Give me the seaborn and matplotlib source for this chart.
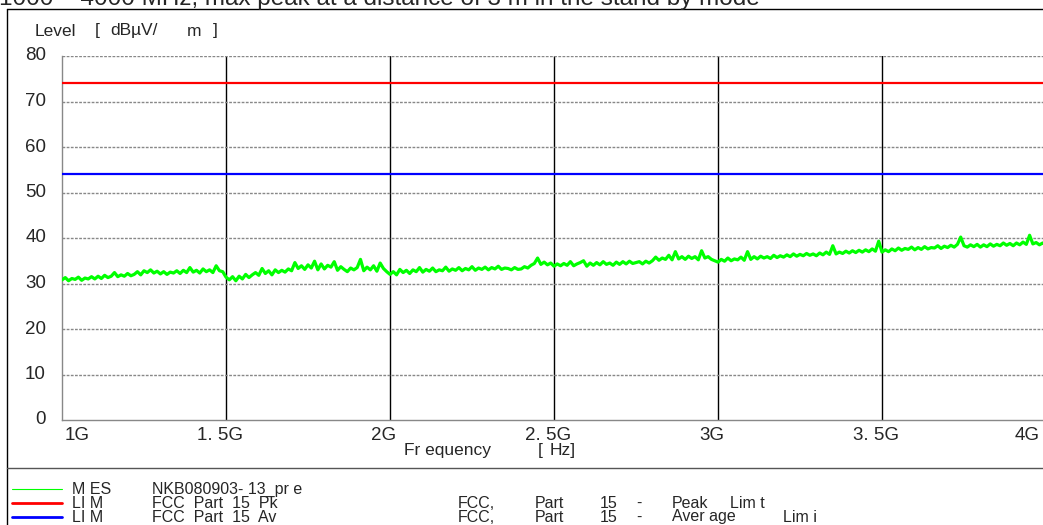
import seaborn as sns
import matplotlib.pyplot as plt
import pandas as pd
from matplotlib.lines import Line2D

# Radiated emission scan, 1 - 4 GHz (10 MHz steps)
freq_ghz = [1.0 + i * 0.01 for i in range(301)]
level = [
    30.8, 31.3, 30.6, 31.1, 30.9, 31.4, 30.7, 31.2, 31.0, 31.5,
    31.0, 31.6, 31.1, 31.8, 31.3, 31.6, 32.4, 31.5, 31.9, 31.6,
    32.2, 31.7, 32.0, 32.6, 31.9, 32.8, 32.4, 33.0, 32.3, 32.7,
    32.1, 32.6, 32.0, 32.5, 32.3, 32.8, 32.2, 32.9, 32.4, 33.5,
    32.5, 32.9, 32.3, 33.2, 32.6, 33.0, 32.4, 33.9, 32.8, 32.6,
    31.4, 30.8, 31.5, 30.6, 31.6, 31.0, 32.0, 31.3, 31.9, 32.4,
    31.8, 33.3, 32.2, 32.8, 31.9, 33.0, 32.4, 32.9, 32.5, 33.2,
    32.8, 34.6, 33.3, 33.9, 33.1, 34.1, 33.4, 34.9, 33.0, 34.3,
    33.2, 34.0, 33.6, 34.8, 32.9, 33.7, 33.1, 32.6, 33.4, 33.0,
    33.5, 35.3, 32.8, 33.6, 33.0, 33.9, 32.7, 34.5, 33.3, 32.6,
    32.0, 32.6, 31.9, 33.1, 32.4, 32.9, 32.2, 33.0, 32.6, 33.5,
    32.5, 33.1, 32.7, 33.4, 32.6, 33.0, 32.8, 33.6, 32.7, 33.2,
    32.9, 33.5, 32.8, 33.3, 33.0, 33.7, 32.9, 33.4, 33.1, 33.6,
    33.0, 33.5, 33.2, 33.8, 33.1, 33.4, 33.3, 33.0, 33.5, 33.1,
    33.2, 33.7, 33.4, 34.0, 34.4, 35.6, 34.2, 34.7, 34.1, 34.5,
    33.8, 34.3, 33.9, 34.4, 34.0, 34.8, 33.9, 34.3, 34.6, 35.0,
    33.8, 34.5, 34.0, 34.6, 34.1, 34.8, 34.2, 34.5, 34.0, 34.7,
    34.2, 34.8, 34.3, 34.9, 34.4, 34.6, 34.8, 34.3, 34.9, 34.5,
    35.0, 35.8, 35.1, 35.6, 35.3, 36.2, 35.2, 37.0, 35.4, 35.9,
    35.3, 36.0, 35.5, 35.9, 35.2, 37.2, 35.6, 35.9, 35.3, 35.0,
    34.7, 35.3, 34.9, 35.6, 35.0, 35.4, 35.2, 35.8, 35.1, 37.0,
    35.3, 35.9, 35.4, 36.0, 35.6, 35.9, 35.5, 36.2, 35.7, 36.1,
    35.8, 36.3, 35.9, 36.5, 36.0, 36.4, 36.1, 36.6, 36.2, 36.5,
    36.1, 36.7, 36.3, 36.9, 36.4, 38.3, 36.5, 36.9, 36.6, 37.1,
    36.7, 37.2, 36.8, 37.3, 36.9, 37.4, 37.0, 37.6, 37.1, 39.3,
    36.9, 37.4, 37.0, 37.6, 37.2, 37.8, 37.3, 37.7, 37.5, 38.0,
    37.4, 37.9, 37.5, 38.1, 37.6, 37.9, 37.8, 38.3, 37.7, 38.2,
    37.9, 38.4, 38.0, 38.6, 40.2, 38.3, 38.0, 38.5, 38.1, 38.6,
    38.0, 38.5, 38.1, 38.7, 38.2, 38.6, 38.3, 38.9, 38.4, 38.8,
    38.3, 38.9, 38.5, 39.1, 38.6, 40.6, 38.7, 39.0, 38.5, 38.9,
    38.6,
]

limit_freq_ghz = [1.0, 4.0]
peak_limit = [74, 74]
avg_limit = [54, 54]

x_ticks = [1.0, 1.5, 2.0, 2.5, 3.0, 3.5, 4.0]
x_tick_labels = ["1G", "1. 5G", "2G", "2. 5G", "3G", "3. 5G", "4G"]
y_ticks = [0, 10, 20, 30, 40, 50, 60, 70, 80]

title = "1000 \u2013 4000 MHz, max peak at a distance of 3 m in the stand by mode"

# legend block: line colour, width, then words with their left edge in pixels
legend_rows = [
    ("#00ff00", 0.8, [(72, "M ES"), (152, "NKB080903- 13_pr e")]),
    ("#ff0000", 2.0, [(72, "LI M"), (152, "FCC  Part  15  Pk"),
                      (458, "FCC,"), (535, "Part"), (600, "15"), (636, "-"),
                      (672, "Peak"), (730, "Lim t")]),
    ("#0000ff", 2.0, [(72, "LI M"), (152, "FCC  Part  15  Av"),
                      (458, "FCC,"), (535, "Part"), (600, "15"), (636, "-"),
                      (672, "Aver age"), (783, "Lim i")]),
]

sns.set_style("white")
plt.rcParams['font.family'] = ['Liberation Sans', 'DejaVu Sans']

W, H = 1043, 525
fig = plt.figure(figsize=(W / 100, H / 100), dpi=100)


def fx(px):
    return px / W


def fy(py):
    return 1 - py / H


ax = fig.add_axes([fx(62), fy(420), fx(1046 - 62), fy(56) - fy(420)])

meas = pd.DataFrame({"freq": freq_ghz, "level": level})
lims = pd.DataFrame({"freq": limit_freq_ghz, "pk": peak_limit, "av": avg_limit})

sns.lineplot(data=meas, x="freq", y="level", color="#00ff00", lw=2.3, ax=ax, zorder=4)
sns.lineplot(data=lims, x="freq", y="pk", color="#ff0000", lw=1.6, ax=ax, zorder=5)
sns.lineplot(data=lims, x="freq", y="av", color="#0000ff", lw=1.6, ax=ax, zorder=5)

ax.set_xlim(1.0, 4.0)
ax.set_ylim(0, 80)
ax.set_xticks(x_ticks)
ax.set_yticks(y_ticks)
ax.set_xticklabels([])
ax.set_yticklabels([])
ax.tick_params(length=0)
ax.set_xlabel("")
ax.set_ylabel("")

# grid: black verticals, grey horizontals
for x in x_ticks[1:-1]:
    ax.axvline(x, color="black", lw=1.0, zorder=2)
for y in y_ticks[1:]:
    ax.axhline(y, color="#888888", lw=1.0, ls=(0, (2, 1)), zorder=2)

for s in ["top", "right"]:
    ax.spines[s].set_visible(False)
for s in ["left", "bottom"]:
    ax.spines[s].set_color("#888888")
    ax.spines[s].set_linewidth(1.0)

# tick labels
for y in y_ticks:
    fig.text(fx(46), fy(56 + (80 - y) * 364 / 80), str(y), ha="right", va="center", fontsize=13.5)
for i, (x, lab) in enumerate(zip(x_ticks, x_tick_labels)):
    px = 62 + (x - 1.0) * 328
    ha = "center"
    if i == 0:
        ha = "left"
        px += 3
    elif i == len(x_ticks) - 1:
        ha = "right"
        px = 1040
    fig.text(fx(px - (6 if ha == "center" else 0)), fy(435), lab, ha=ha, va="center", fontsize=13.5)

# axis titles, word by word as the plotter spreads them
for px, word in [(35, "Level"), (95, "["), (110, "dB\u00b5V/"), (187, "m"), (213, "]")]:
    fig.text(fx(px), fy(31), word, ha="left", va="center", fontsize=12.5)
for px, word in [(404, "Fr equency"), (538, "["), (550, "Hz]")]:
    fig.text(fx(px), fy(451), word, ha="left", va="center", fontsize=12.5)

# title, cut off at the top edge
fig.text(fx(-1), fy(5), title, ha="left", va="baseline", fontsize=17.5)

# outer frame and separator
fig.add_artist(Line2D([fx(7), fx(7)], [fy(9), 0], color="black", lw=1))
fig.add_artist(Line2D([fx(7), 1], [fy(9), fy(9)], color="black", lw=1))
fig.add_artist(Line2D([fx(7), 1], [fy(468), fy(468)], color="#555555", lw=1))

for i, (col, lw, words) in enumerate(legend_rows):
    py = 489 + i * 14
    fig.add_artist(Line2D([fx(12), fx(62)], [fy(py), fy(py)], color=col, lw=lw))
    for px, word in words:
        fig.text(fx(px), fy(py), word, ha="left", va="center", fontsize=11.5)

plt.savefig("out.png", dpi=100)
